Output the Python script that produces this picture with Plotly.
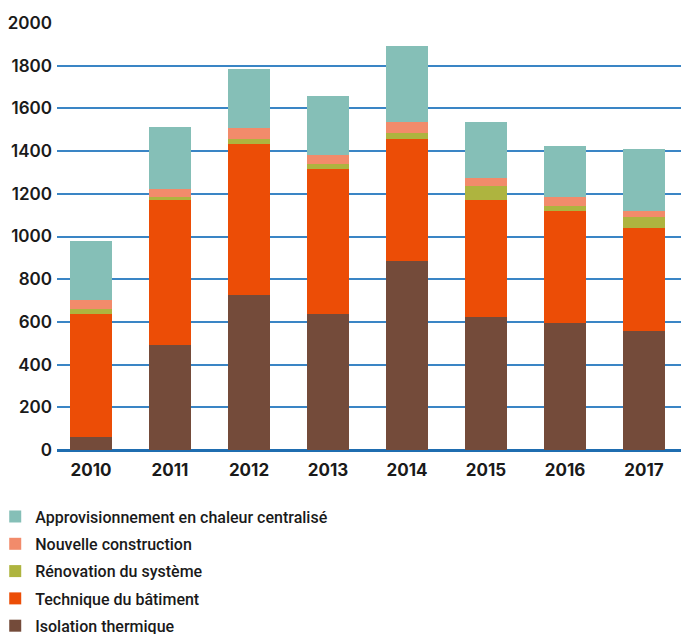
import plotly.graph_objects as go

years = ["2010", "2011", "2012", "2013", "2014", "2015", "2016", "2017"]
isolation = [61, 492, 726, 637, 885, 623, 595, 557]
technique = [576, 679, 707, 679, 572, 548, 524, 483]
renovation = [22, 14, 22, 24, 28, 66, 25, 51]
nouvelle = [44, 38, 53, 42, 53, 38, 41, 28]
chaleur = [276, 290, 277, 276, 354, 261, 239, 291]

series = [
    ("Isolation thermique", isolation, "#744B3A"),
    ("Technique du bâtiment", technique, "#EC4D06"),
    ("Rénovation du système", renovation, "#AEB43F"),
    ("Nouvelle construction", nouvelle, "#F28B6B"),
    ("Approvisionnement en chaleur centralisé", chaleur, "#85BFB7"),
]

fig = go.Figure()
for i, (name, vals, col) in enumerate(series):
    fig.add_trace(go.Bar(x=years, y=vals, name=name, marker_color=col,
                         marker_line_width=0, legendgroup=name,
                         legendrank=len(series) - i))

fig.update_layout(
    width=681, height=634,
    margin=dict(l=57, r=0, t=23, b=184, autoexpand=False),
    barmode="stack",
    bargap=0.47,
    plot_bgcolor="white",
    paper_bgcolor="white",
    font=dict(family="Inter", color="#1a1a1a"),
    showlegend=True,
    legend=dict(
        xref="paper", yref="container",
        x=-0.099, y=0.212, xanchor="left", yanchor="top",
        traceorder="grouped", tracegroupgap=3.5,
        font=dict(family="Roboto", size=16, color="#1a1a1a", weight=500),
        bgcolor="rgba(0,0,0,0)",
    ),
    xaxis=dict(
        range=[-0.43, 7.468],
        showgrid=False,
        ticks="outside", ticklen=5, tickcolor="rgba(0,0,0,0)",
        tickfont=dict(size=17, weight=700, family="Inter"),
        showline=False,
    ),
    yaxis=dict(
        range=[0, 2000],
        tickvals=[0, 200, 400, 600, 800, 1000, 1200, 1400, 1600, 1800, 2000],
        showgrid=True, gridcolor="#3A85C5", gridwidth=1.5,
        zeroline=True, zerolinecolor="#1F6DB0", zerolinewidth=3,
        tickfont=dict(size=17, weight=600, family="Inter"),
        ticks="", ticklabelstandoff=4,
    ),
)

fig.write_html("out.html")
